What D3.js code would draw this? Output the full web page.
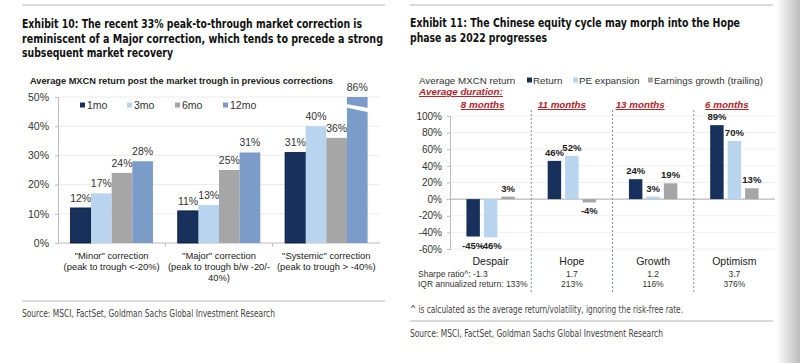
<!DOCTYPE html>
<meta charset="utf-8">
<script src="https://d3js.org/d3.v7.min.js"></script>
<style>
  body { margin: 0; background: #fff; }
  text { font-family: "Liberation Sans", Arial, sans-serif; }
  .narrow { font-family: "Liberation Sans Narrow", "DejaVu Sans Condensed", "Liberation Sans", sans-serif; }
</style>
<div id="chart"></div>
<script>

// ---- data: Exhibit 10 ----
var corrCats = ["Minor", "Major", "Systemic"];
var corrLabels = [
  ["\"Minor\" correction", "(peak to trough <-20%)"],
  ["\"Major\" correction", "(peak to trough b/w -20/-", "40%)"],
  ["\"Systemic\" correction", "(peak to trough > -40%)"]
];
var horizons = ["1mo", "3mo", "6mo", "12mo"];
var ret1mo  = [12, 11, 31];
var ret3mo  = [17, 13, 40];
var ret6mo  = [24, 25, 36];
var ret12mo = [28, 31, 86];
var leftTicks = [0, 10, 20, 30, 40, 50];

// ---- data: Exhibit 11 ----
var phases = ["Despair", "Hope", "Growth", "Optimism"];
var phaseSeries = ["Return", "PE expansion", "Earnings growth (trailing)"];
var phaseReturn   = [-45, 46, 24, 89];
var phasePE       = [-46, 52, 3, 70];
var phaseEarnings = [3, -4, 19, 13];
var durations = ["8 months", "11 months", "13 months", "6 months"];
var sharpe = ["-1.3", "1.7", "1.2", "3.7"];
var iqr = ["133%", "213%", "116%", "376%"];
var rightTicks = [-60, -40, -20, 0, 20, 40, 60, 80, 100];

var navy = "#17315c", light = "#b8d4ef", grey = "#a6a6a6", steel = "#7b9bc8";

var svg = d3.select("#chart").append("svg")
  .attr("width", 800).attr("height", 363);

// page shadow on the far right
var grad = svg.append("defs").append("linearGradient").attr("id", "shade");
grad.append("stop").attr("offset", "0%").attr("stop-color", "#fff");
grad.append("stop").attr("offset", "100%").attr("stop-color", "#bdbdbd");
svg.append("rect").attr("x", 776).attr("y", 0).attr("width", 24).attr("height", 363)
  .attr("fill", "url(#shade)");

function rule(x1, x2, y) {
  svg.append("line").attr("x1", x1).attr("x2", x2).attr("y1", y).attr("y2", y)
    .attr("stroke", "#b5b5b5").attr("stroke-width", 1.2);
}
function fitText(txt, x, y, w, size, bold) {
  svg.append("text").attr("class", "narrow").attr("x", x).attr("y", y)
    .attr("textLength", w).attr("lengthAdjust", "spacingAndGlyphs")
    .style("font-size", size + "px").style("font-weight", bold ? "bold" : "normal")
    .attr("fill", bold ? "#111" : "#444").text(txt);
}

// ================= Exhibit 10 =================
rule(22, 385, 5);
fitText("Exhibit 10: The recent 33% peak-to-through market correction is", 22, 28, 340, 13, true);
fitText("reminiscent of a Major correction, which tends to precede a strong", 22, 42.5, 361, 13, true);
fitText("subsequent market recovery", 22, 57, 151, 13, true);

svg.append("text").attr("x", 30).attr("y", 84)
  .attr("textLength", 303).attr("lengthAdjust", "spacingAndGlyphs")
  .style("font-size", "9.5px").style("font-weight", "bold").attr("fill", "#222")
  .text("Average MXCN return post the market trough in previous corrections");

var L = svg.append("g");
var yL = d3.scaleLinear().domain([0, 50]).range([243, 97]);
var x0L = d3.scaleBand().domain(corrCats).range([58, 380]);
var x1L = d3.scaleBand().domain(horizons).range([0, x0L.bandwidth()]).paddingOuter(0.6);
var colL = d3.scaleOrdinal().domain(horizons).range([navy, light, grey, steel]);
var seriesL = [ret1mo, ret3mo, ret6mo, ret12mo];

// gridlines
L.selectAll(".grid").data(leftTicks.slice(1)).join("line")
  .attr("x1", 58).attr("x2", 380).attr("y1", d => yL(d)).attr("y2", d => yL(d))
  .attr("stroke", "#ececec");

var yAxisL = L.append("g").attr("transform", "translate(58,0)")
  .call(d3.axisLeft(yL).tickValues(leftTicks).tickFormat(d => d + "%").tickSize(3).tickPadding(6));
yAxisL.selectAll("text").style("font-size", "10.5px").attr("fill", "#333");
yAxisL.selectAll("line, path").attr("stroke", "#bbb");

// x axis with separator ticks
L.append("line").attr("x1", 58).attr("x2", 380).attr("y1", 243).attr("y2", 243).attr("stroke", "#bbb");
L.selectAll(".sep").data(corrCats.slice(1)).join("line")
  .attr("x1", d => x0L(d)).attr("x2", d => x0L(d)).attr("y1", 243).attr("y2", 247)
  .attr("stroke", "#bbb");

var groups = L.selectAll(".grp").data(corrCats).join("g")
  .attr("transform", d => "translate(" + x0L(d) + ",0)");

groups.each(function(cat, ci) {
  var g = d3.select(this);
  horizons.forEach(function(h, hi) {
    var v = seriesL[hi][ci];
    var shown = Math.min(v, 50);
    var bx = x1L(h), bw = x1L.bandwidth();
    g.append("rect").attr("x", bx).attr("y", yL(shown))
      .attr("width", bw).attr("height", yL(0) - yL(shown))
      .attr("fill", colL(h)).attr("stroke", hi === 0 ? "#0d1a33" : "none").attr("stroke-width", 0.8);
    if (v > 50) {
      // axis break on the tall bar
      g.append("polygon")
        .attr("points", [[bx - 1, yL(47.6)], [bx + bw + 1, yL(46.2)], [bx + bw + 1, yL(44.8)], [bx - 1, yL(46.4)]].join(" "))
        .attr("fill", "#fff");
    }
    g.append("text").attr("x", bx + bw / 2).attr("y", yL(shown) - 6)
      .attr("text-anchor", "middle").style("font-size", "10.5px").attr("fill", "#333")
      .text(v + "%");
  });
});

// category labels
corrCats.forEach(function(c, i) {
  corrLabels[i].forEach(function(line, j) {
    L.append("text").attr("x", x0L(c) + x0L.bandwidth() / 2).attr("y", 259 + j * 11)
      .attr("text-anchor", "middle").style("font-size", "9.4px").attr("fill", "#222")
      .text(line);
  });
});

// legend
var legX = [80, 127, 175, 223];
horizons.forEach(function(h, i) {
  L.append("rect").attr("x", legX[i]).attr("y", 102.5).attr("width", 5).attr("height", 5).attr("fill", colL(h));
  L.append("text").attr("x", legX[i] + 7).attr("y", 109).style("font-size", "10.5px").attr("fill", "#333").text(h);
});

rule(22, 385, 301);
fitText("Source: MSCI, FactSet, Goldman Sachs Global Investment Research", 22, 317, 253, 11, false);

// ================= Exhibit 11 =================
rule(410, 773, 5);
fitText("Exhibit 11: The Chinese equity cycle may morph into the Hope", 410, 27, 330, 13, true);
fitText("phase as 2022 progresses", 410, 41.5, 137, 13, true);

var R = svg.append("g");
var yR = d3.scaleLinear().domain([-60, 100]).range([249, 116]);
var x0R = d3.scaleBand().domain(phases).range([450, 775]);
var x1R = d3.scaleBand().domain(phaseSeries).range([0, x0R.bandwidth()]).paddingInner(0.23).paddingOuter(0.94);
var colR = d3.scaleOrdinal().domain(phaseSeries).range([navy, light, grey]);
var seriesR = [phaseReturn, phasePE, phaseEarnings];

// legend row
R.append("text").attr("x", 419).attr("y", 84).style("font-size", "9.8px").attr("fill", "#333").text("Average MXCN return");
var legRX = [527, 573, 648];
phaseSeries.forEach(function(s, i) {
  R.append("rect").attr("x", legRX[i]).attr("y", 77.5).attr("width", 5).attr("height", 5).attr("fill", colR(s));
  R.append("text").attr("x", legRX[i] + 6).attr("y", 84).style("font-size", "9.8px").attr("fill", "#333").text(s);
});

var red = "#b4232a";
var durOffset = [-8, -10, -13, -7.5];
R.append("text").attr("x", 419).attr("y", 95)
  .style("font-size", "9.8px").style("font-weight", "bold").style("font-style", "italic")
  .style("text-decoration", "underline").attr("fill", red).text("Average duration:");
phases.forEach(function(p, i) {
  R.append("text").attr("x", x0R(p) + x0R.bandwidth() / 2 + durOffset[i]).attr("y", 108)
    .attr("text-anchor", "middle")
    .style("font-size", "9.8px").style("font-weight", "bold").style("font-style", "italic")
    .style("text-decoration", "underline").attr("fill", red).text(durations[i]);
});

// gridlines
R.selectAll(".grid").data(rightTicks.filter(d => d !== 0)).join("line")
  .attr("x1", 450).attr("x2", 775).attr("y1", d => yR(d)).attr("y2", d => yR(d))
  .attr("stroke", "#efefef");

var yAxisR = R.append("g").attr("transform", "translate(450,0)")
  .call(d3.axisLeft(yR).tickValues(rightTicks).tickFormat(d => d + "%").tickSize(3).tickPadding(5));
yAxisR.selectAll("text").style("font-size", "10px").attr("fill", "#333");
yAxisR.selectAll("line, path").attr("stroke", "#bbb");

R.append("line").attr("x1", 450).attr("x2", 775).attr("y1", yR(0)).attr("y2", yR(0)).attr("stroke", "#aaa");

// dotted separators
R.selectAll(".sep").data(phases.slice(1)).join("line")
  .attr("x1", d => x0R(d)).attr("x2", d => x0R(d)).attr("y1", 110).attr("y2", 292)
  .attr("stroke", "#7d8fa6").attr("stroke-width", 1).attr("stroke-dasharray", "2,2");

phases.forEach(function(p, pi) {
  phaseSeries.forEach(function(s, si) {
    var v = seriesR[si][pi];
    var bx = x0R(p) + x1R(s), bw = x1R.bandwidth();
    R.append("rect").attr("x", bx).attr("y", yR(Math.max(v, 0)))
      .attr("width", bw).attr("height", Math.abs(yR(v) - yR(0)))
      .attr("fill", colR(s));
    R.append("text").attr("x", bx + bw / 2)
      .attr("y", v >= 0 ? yR(v) - 5 : yR(v) + 12)
      .attr("text-anchor", "middle").style("font-size", "9.5px").style("font-weight", "bold")
      .attr("fill", "#222").text(v + "%");
  });
  var cx = x0R(p) + x0R.bandwidth() / 2;
  R.append("text").attr("x", cx).attr("y", 265).attr("text-anchor", "middle")
    .style("font-size", "10.5px").attr("fill", "#222").text(p);
  if (pi > 0) {
    R.append("text").attr("x", cx).attr("y", 277).attr("text-anchor", "middle")
      .style("font-size", "8.5px").attr("fill", "#333").text(sharpe[pi]);
    R.append("text").attr("x", cx).attr("y", 287).attr("text-anchor", "middle")
      .style("font-size", "8.5px").attr("fill", "#333").text(iqr[pi]);
  }
});
R.append("text").attr("x", 418).attr("y", 277).style("font-size", "8.5px").attr("fill", "#333")
  .text("Sharpe ratio^: " + sharpe[0]);
R.append("text").attr("x", 418).attr("y", 287).style("font-size", "8.5px").attr("fill", "#333")
  .text("IQR annualized return: " + iqr[0]);

fitText("^ is calculated as the average return/volatility, ignoring the risk-free rate.", 410, 313, 273, 11, false);
rule(410, 773, 321);
fitText("Source: MSCI, FactSet, Goldman Sachs Global Investment Research", 410, 337, 253, 11, false);

</script>
